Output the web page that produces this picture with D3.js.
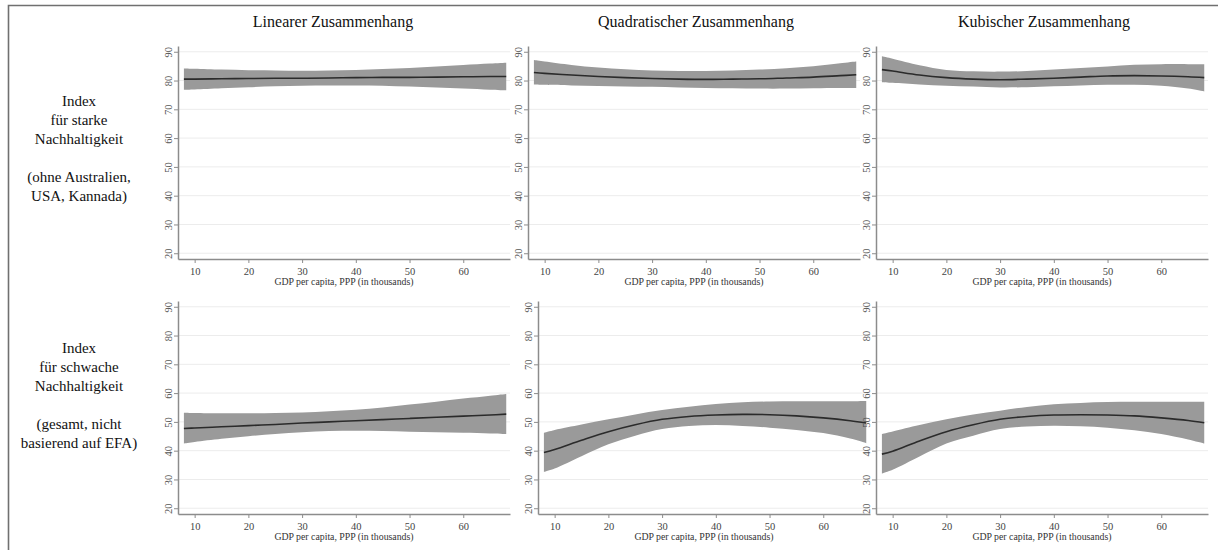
<!DOCTYPE html>
<html>
<head>
<meta charset="utf-8">
<script src="https://cdn.jsdelivr.net/npm/d3@7"></script>
<style>
  html, body { margin: 0; padding: 0; background: #fff; }
  svg { display: block; }
  svg text { font-family: "Liberation Serif", "DejaVu Serif", serif !important; }
</style>
</head>
<body>
<svg id="chart" width="1218" height="550"></svg>
<script>
// GDP per capita (thousands, PPP) at which the fitted curves are evaluated
const gdpPoints = [8, 10, 15, 20, 25, 30, 35, 40, 45, 50, 55, 60, 65, 68];

// Column headings (model form) and row labels (index)
const columnTitles = ["Linearer Zusammenhang", "Quadratischer Zusammenhang", "Kubischer Zusammenhang"];
const rowLabels = [
  ["Index", "für starke", "Nachhaltigkeit", "", "(ohne Australien,", "USA, Kannada)"],
  ["Index", "für schwache", "Nachhaltigkeit", "", "(gesamt, nicht", "basierend auf EFA)"]
];
const xAxisTitle = "GDP per capita, PPP (in thousands)";
const xTicks = [10, 20, 30, 40, 50, 60];
const yTicks = [20, 30, 40, 50, 60, 70, 80, 90];

// Strong sustainability index — linear fit with 95% CI
const strongLinFit = [80.5, 80.5, 80.6, 80.7, 80.8, 80.8, 80.9, 81.0, 81.1, 81.1, 81.2, 81.3, 81.4, 81.4];
const strongLinHi  = [84.2, 84.1, 83.8, 83.6, 83.5, 83.4, 83.5, 83.7, 84.0, 84.4, 84.9, 85.4, 85.9, 86.2];
const strongLinLo  = [76.8, 76.9, 77.3, 77.7, 78.0, 78.2, 78.3, 78.3, 78.2, 77.9, 77.6, 77.2, 76.8, 76.6];

// Strong sustainability index — quadratic fit
const strongQuadFit = [82.8, 82.5, 81.9, 81.4, 81.0, 80.7, 80.5, 80.4, 80.5, 80.6, 80.9, 81.2, 81.7, 82.0];
const strongQuadHi  = [87.1, 86.6, 85.4, 84.5, 83.9, 83.5, 83.3, 83.3, 83.5, 83.8, 84.3, 85.0, 86.0, 86.6];
const strongQuadLo  = [78.6, 78.5, 78.3, 78.1, 77.9, 77.8, 77.6, 77.4, 77.3, 77.2, 77.2, 77.3, 77.4, 77.4];

// Strong sustainability index — cubic fit
const strongCubFit = [83.8, 83.3, 81.9, 81.0, 80.5, 80.3, 80.5, 80.8, 81.2, 81.6, 81.7, 81.6, 81.3, 81.0];
const strongCubHi  = [88.4, 87.6, 85.3, 83.7, 83.2, 83.1, 83.3, 83.8, 84.4, 84.9, 85.5, 85.7, 85.7, 85.7];
const strongCubLo  = [79.4, 79.2, 78.6, 78.2, 77.9, 77.6, 77.7, 78.0, 78.3, 78.5, 78.5, 78.2, 77.2, 76.2];

// Weak sustainability index — linear fit
const weakLinFit = [47.7, 47.9, 48.3, 48.7, 49.1, 49.6, 50.0, 50.4, 50.8, 51.2, 51.6, 52.0, 52.4, 52.7];
const weakLinHi  = [53.2, 53.1, 53.0, 53.0, 53.1, 53.3, 53.7, 54.2, 55.0, 56.0, 57.0, 58.1, 59.1, 59.7];
const weakLinLo  = [42.5, 43.0, 44.1, 45.0, 45.8, 46.4, 46.8, 46.9, 46.8, 46.6, 46.4, 46.2, 46.0, 45.8];

// Weak sustainability index — quadratic fit
const weakQuadFit = [39.4, 40.4, 43.6, 46.6, 49.0, 50.9, 51.9, 52.4, 52.6, 52.5, 52.1, 51.4, 50.4, 49.6];
const weakQuadHi  = [46.2, 47.2, 49.1, 50.9, 52.6, 54.1, 55.3, 56.2, 56.8, 57.1, 57.2, 57.2, 57.2, 57.3];
const weakQuadLo  = [32.6, 33.8, 38.1, 42.2, 45.2, 47.5, 48.6, 48.9, 48.6, 48.0, 47.2, 46.1, 44.2, 42.6];

// Weak sustainability index — cubic fit
const weakCubFit = [38.8, 39.8, 43.4, 46.6, 49.0, 50.9, 51.9, 52.4, 52.5, 52.4, 52.1, 51.4, 50.5, 49.7];
const weakCubHi  = [45.8, 46.7, 48.9, 50.9, 52.6, 53.9, 55.2, 56.1, 56.6, 56.9, 57.0, 57.0, 57.0, 57.0];
const weakCubLo  = [32.1, 33.4, 38.0, 42.5, 45.2, 47.5, 48.4, 48.7, 48.5, 48.0, 47.1, 45.8, 43.9, 42.5];

const panelSeries = [
  [
    { fit: strongLinFit, hi: strongLinHi, lo: strongLinLo },
    { fit: strongQuadFit, hi: strongQuadHi, lo: strongQuadLo },
    { fit: strongCubFit, hi: strongCubHi, lo: strongCubLo }
  ],
  [
    { fit: weakLinFit, hi: weakLinHi, lo: weakLinLo },
    { fit: weakQuadFit, hi: weakQuadHi, lo: weakQuadLo },
    { fit: weakCubFit, hi: weakCubHi, lo: weakCubLo }
  ]
];

// ---- layout ----
const svg = d3.select("#chart");
const serif = "Liberation Serif";
const plotW = 332;
const rowGeom = [
  { top: 46, bottom: 259, lefts: [178, 528, 876] },
  { top: 301, bottom: 514, lefts: [178, 538, 876] }
];
const titleCenters = [333, 696, 1044];
const smooth = d3.curveCatmullRom.alpha(0.5);

// outer frame (left and top edges)
svg.append("path")
  .attr("d", "M8.5,550 L8.5,5.5 L1218,5.5")
  .attr("fill", "none")
  .attr("stroke", "#707070")
  .attr("stroke-width", 1.6);

// column headings
svg.selectAll("text.coltitle")
  .data(columnTitles)
  .join("text")
  .attr("class", "coltitle")
  .attr("x", (d, i) => titleCenters[i])
  .attr("y", 27)
  .attr("text-anchor", "middle")
  .attr("font-family", serif)
  .attr("font-size", 16)
  .attr("fill", "#111")
  .text(d => d);

// row labels
const rowBaselines = [106, 353];
rowLabels.forEach((lines, r) => {
  const t = svg.append("text")
    .attr("x", 79)
    .attr("y", rowBaselines[r])
    .attr("text-anchor", "middle")
    .attr("font-family", serif)
    .attr("font-size", 15)
    .attr("fill", "#111");
  lines.forEach((line, k) => {
    t.append("tspan")
      .attr("x", 79)
      .attr("y", rowBaselines[r] + k * 19)
      .text(line === "" ? "\u00a0" : line);
  });
});

// ---- panels ----
panelSeries.forEach((rowSeries, r) => {
  const g = rowGeom[r];
  rowSeries.forEach((s, c) => {
    const left = g.lefts[c];
    const x = d3.scaleLinear().domain([6.9, 68.7]).range([left, left + plotW]);
    const y = d3.scaleLinear().domain([18, 92]).range([g.bottom, g.top]);
    const panel = svg.append("g");

    // horizontal grid lines
    panel.selectAll("line.grid")
      .data(yTicks)
      .join("line")
      .attr("class", "grid")
      .attr("x1", left)
      .attr("x2", left + plotW)
      .attr("y1", d => y(d))
      .attr("y2", d => y(d))
      .attr("stroke", "#ececec")
      .attr("stroke-width", 1);

    const pts = gdpPoints.map((gx, i) => ({ x: gx, fit: s.fit[i], hi: s.hi[i], lo: s.lo[i] }));

    // confidence band
    panel.append("path")
      .datum(pts)
      .attr("fill", "#9a9a9a")
      .attr("d", d3.area()
        .curve(smooth)
        .x(d => x(d.x))
        .y0(d => y(d.lo))
        .y1(d => y(d.hi)));

    // fitted line
    panel.append("path")
      .datum(pts)
      .attr("fill", "none")
      .attr("stroke", "#2b2b2b")
      .attr("stroke-width", 1.6)
      .attr("d", d3.line()
        .curve(smooth)
        .x(d => x(d.x))
        .y(d => y(d.fit)));

    // y axis
    const yAxis = panel.append("g")
      .attr("transform", `translate(${left},0)`)
      .call(d3.axisLeft(y).tickValues(yTicks).tickSize(4).tickSizeOuter(0));
    yAxis.attr("font-family", serif);
    yAxis.select(".domain").attr("stroke", "#8c8c8c").attr("stroke-width", 1.5);
    yAxis.selectAll(".tick line").attr("stroke", "#8c8c8c").attr("stroke-width", 1);
    yAxis.selectAll(".tick text")
      .attr("x", null)
      .attr("dy", null)
      .attr("transform", "translate(-10,0) rotate(-90)")
      .attr("text-anchor", "middle")
      .attr("dominant-baseline", "central")
      .attr("font-family", serif)
      .attr("font-size", 10.5)
      .attr("fill", "#555");

    // x axis
    const xAxis = panel.append("g")
      .attr("transform", `translate(0,${g.bottom})`)
      .call(d3.axisBottom(x).tickValues(xTicks).tickSize(4).tickSizeOuter(0));
    xAxis.attr("font-family", serif);
    xAxis.select(".domain").attr("stroke", "#8c8c8c").attr("stroke-width", 1.5);
    xAxis.selectAll(".tick line").attr("stroke", "#8c8c8c").attr("stroke-width", 1);
    xAxis.selectAll(".tick text")
      .attr("y", 16)
      .attr("dy", null)
      .attr("font-family", serif)
      .attr("font-size", 10.5)
      .attr("fill", "#444");

    panel.append("text")
      .attr("x", left + plotW / 2)
      .attr("y", g.bottom + 26)
      .attr("text-anchor", "middle")
      .attr("font-family", serif)
      .attr("font-size", 9.8)
      .attr("fill", "#333")
      .text(xAxisTitle);
  });
});
</script>
</body>
</html>
